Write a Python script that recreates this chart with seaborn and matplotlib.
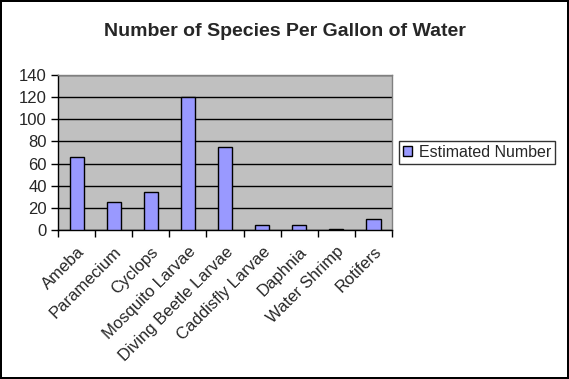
import matplotlib
matplotlib.use("Agg")
import matplotlib.pyplot as plt
import seaborn as sns
import numpy as np
import pandas as pd

species = ["Ameba", "Paramecium", "Cyclops", "Mosquito Larvae", "Diving Beetle Larvae",
           "Caddisfly Larvae", "Daphnia", "Water Shrimp", "Rotifers"]
estimated = [66, 25, 34, 120, 75, 5, 5, 1, 10]
series_name = "Estimated Number"
yticks = [0, 20, 40, 60, 80, 100, 120, 140]

sns.set_theme(style="white")
plt.rcParams["font.family"] = ["Liberation Sans", "DejaVu Sans"]

df = pd.DataFrame({"species": species, "value": estimated, "series": series_name})

fig = plt.figure(figsize=(5.69, 3.79), dpi=100)
fig.patch.set_edgecolor("black")
fig.patch.set_linewidth(1.5)
ax = fig.add_axes([0.102, 0.393, 0.587, 0.409])
ax.set_facecolor("#C0C0C0")

sns.barplot(data=df, x="species", y="value", hue="series", palette=["#9999FF"],
            saturation=1, width=0.38, edgecolor="black", linewidth=1, ax=ax,
            legend=True, zorder=3)

ax.set_ylim(0, 140)
ax.set_xlim(-0.5, len(species) - 0.5)
ax.set_yticks(yticks)
ax.set_yticklabels([str(v) for v in yticks], fontsize=12)
ax.yaxis.grid(True, color="black", linewidth=1)
ax.set_axisbelow(True)
for s in ax.spines.values():
    s.set_color("#808080")
    s.set_linewidth(1)
ax.spines["bottom"].set_color("black")
ax.spines["left"].set_color("black")

ax.set_xticks(range(len(species)))
ax.set_xticklabels(species, rotation=45, ha="right", rotation_mode="anchor", fontsize=12)
ax.tick_params(axis="x", which="major", length=0, pad=10)
ax.set_xticks(np.arange(-0.5, len(species), 1), minor=True)
ax.tick_params(axis="x", which="minor", length=5, color="black", width=1, direction="out", bottom=True)
ax.tick_params(axis="y", length=5, color="black", width=1, direction="out", left=True, pad=3)
ax.set_xlabel("")
ax.set_ylabel("")

leg = ax.legend(loc="center left", bbox_to_anchor=(1.02, 0.5), frameon=True, fontsize=11.5,
                fancybox=False, edgecolor="black", handlelength=0.6, handleheight=0.6,
                handletextpad=0.4, borderpad=0.25, borderaxespad=0)
leg.get_frame().set_linewidth(1)

fig.suptitle("Number of Species Per Gallon of Water", fontsize=14, fontweight="bold", y=0.94)

fig.savefig("out.png", dpi=100)
